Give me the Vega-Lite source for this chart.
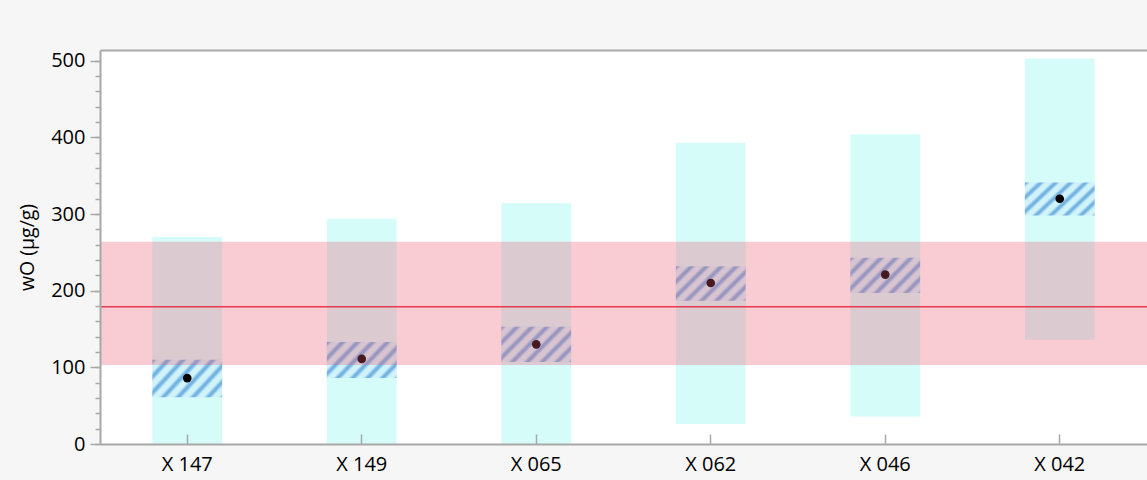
{
  "$schema": "https://vega.github.io/schema/vega-lite/v6.json",
  "width": 1047,
  "height": 394,
  "autosize": "none",
  "padding": {"left": 100, "top": 50, "right": 0, "bottom": 36},
  "background": "#f6f6f6",
  "config": {
    "font": "Open Sans",
    "view": {"fill": "white", "stroke": null},
    "axis": {"grid": false, "labelFont": "Open Sans", "titleFont": "Open Sans", "labelColor": "black", "titleColor": "black", "domainColor": "#a8a8a8", "tickColor": "#a8a8a8"}
  },
  "datasets": {
    "samples": [
      {"sample": "X 147", "lo": 0, "hi": 270, "qlo": 61, "qhi": 110, "value": 86},
      {"sample": "X 149", "lo": 0, "hi": 294, "qlo": 86, "qhi": 133, "value": 111},
      {"sample": "X 065", "lo": 0, "hi": 314, "qlo": 107, "qhi": 153, "value": 130},
      {"sample": "X 062", "lo": 26, "hi": 393, "qlo": 187, "qhi": 232, "value": 210},
      {"sample": "X 046", "lo": 36, "hi": 404, "qlo": 197, "qhi": 243, "value": 221},
      {"sample": "X 042", "lo": 136, "hi": 503, "qlo": 298, "qhi": 341, "value": 320}
    ],
    "reference": [
      {"lo": 103, "hi": 264, "mean": 179}
    ]
  },
  "layer": [
    {
      "data": {"name": "samples"},
      "mark": {"type": "bar", "fill": "#d5fcf9", "width": {"band": 0.4}},
      "encoding": {
        "x": {
          "field": "sample", "type": "nominal", "sort": null,
          "scale": {"paddingInner": 0, "paddingOuter": 0},
          "axis": {"orient": "bottom", "title": null, "labelAngle": 0, "labelFontSize": 20, "tickSize": -10, "labelPadding": 20, "domainWidth": 2, "tickWidth": 1.5, "zindex": 1}
        },
        "y": {
          "field": "lo", "type": "quantitative",
          "scale": {"domain": [0, 514], "nice": false, "zero": false},
          "axis": {"orient": "left", "values": [0, 100, 200, 300, 400, 500], "tickSize": 10, "tickWidth": 1.5, "labelPadding": 5, "labelFontSize": 20, "domainWidth": 2, "title": "wO (μg/g)", "titleFontSize": 19.5, "titleFontWeight": "normal", "titlePadding": 13, "zindex": 1}
        },
        "y2": {"field": "hi"}
      }
    },
    {
      "data": {"name": "samples"},
      "mark": {
        "type": "bar",
        "width": {"band": 0.4},
        "fill": {
          "gradient": "linear", "x1": 0, "y1": 0, "x2": 1.2, "y2": 0.6,
          "stops": [
            {"offset": 0, "color": "#72b2e2"}, {"offset": 0.0171, "color": "#72b2e2"}, {"offset": 0.0543, "color": "#d0f3fa"}, {"offset": 0.1057, "color": "#d0f3fa"},
            {"offset": 0.142857, "color": "#72b2e2"}, {"offset": 0.16, "color": "#72b2e2"}, {"offset": 0.1971, "color": "#d0f3fa"}, {"offset": 0.2486, "color": "#d0f3fa"},
            {"offset": 0.285714, "color": "#72b2e2"}, {"offset": 0.3029, "color": "#72b2e2"}, {"offset": 0.34, "color": "#d0f3fa"}, {"offset": 0.3914, "color": "#d0f3fa"},
            {"offset": 0.428571, "color": "#72b2e2"}, {"offset": 0.4457, "color": "#72b2e2"}, {"offset": 0.4829, "color": "#d0f3fa"}, {"offset": 0.5343, "color": "#d0f3fa"},
            {"offset": 0.571429, "color": "#72b2e2"}, {"offset": 0.5886, "color": "#72b2e2"}, {"offset": 0.6257, "color": "#d0f3fa"}, {"offset": 0.6771, "color": "#d0f3fa"},
            {"offset": 0.714286, "color": "#72b2e2"}, {"offset": 0.7314, "color": "#72b2e2"}, {"offset": 0.7686, "color": "#d0f3fa"}, {"offset": 0.82, "color": "#d0f3fa"},
            {"offset": 0.857143, "color": "#72b2e2"}, {"offset": 0.8743, "color": "#72b2e2"}, {"offset": 0.9114, "color": "#d0f3fa"}, {"offset": 0.9629, "color": "#d0f3fa"},
            {"offset": 1, "color": "#72b2e2"}
          ]
        }
      },
      "encoding": {
        "x": {
          "field": "sample", "type": "nominal", "sort": null,
          "axis": {"orient": "top", "labels": false, "ticks": false, "title": null, "domainWidth": 2, "zindex": 1}
        },
        "y": {
          "field": "qlo", "type": "quantitative",
          "axis": {"orient": "left", "values": [0, 20, 40, 60, 80, 100, 120, 140, 160, 180, 200, 220, 240, 260, 280, 300, 320, 340, 360, 380, 400, 420, 440, 460, 480, 500], "tickSize": 5, "tickWidth": 1.5, "labels": false, "domain": false, "title": null}
        },
        "y2": {"field": "qhi"}
      }
    },
    {
      "data": {"name": "samples"},
      "mark": {"type": "circle", "color": "black", "opacity": 1, "size": 75},
      "encoding": {
        "x": {"field": "sample", "type": "nominal", "sort": null, "axis": null},
        "y": {"field": "value", "type": "quantitative", "axis": null}
      }
    },
    {
      "data": {"name": "reference"},
      "mark": {"type": "rect", "fill": "#eb5770", "opacity": 0.3},
      "encoding": {
        "y": {"field": "lo", "type": "quantitative", "axis": null},
        "y2": {"field": "hi"}
      }
    },
    {
      "data": {"name": "reference"},
      "mark": {"type": "rule", "color": "#e8394f", "strokeWidth": 1.5},
      "encoding": {
        "y": {"field": "mean", "type": "quantitative", "axis": null}
      }
    }
  ],
  "resolve": {"axis": {"y": "independent", "x": "independent"}}
}
